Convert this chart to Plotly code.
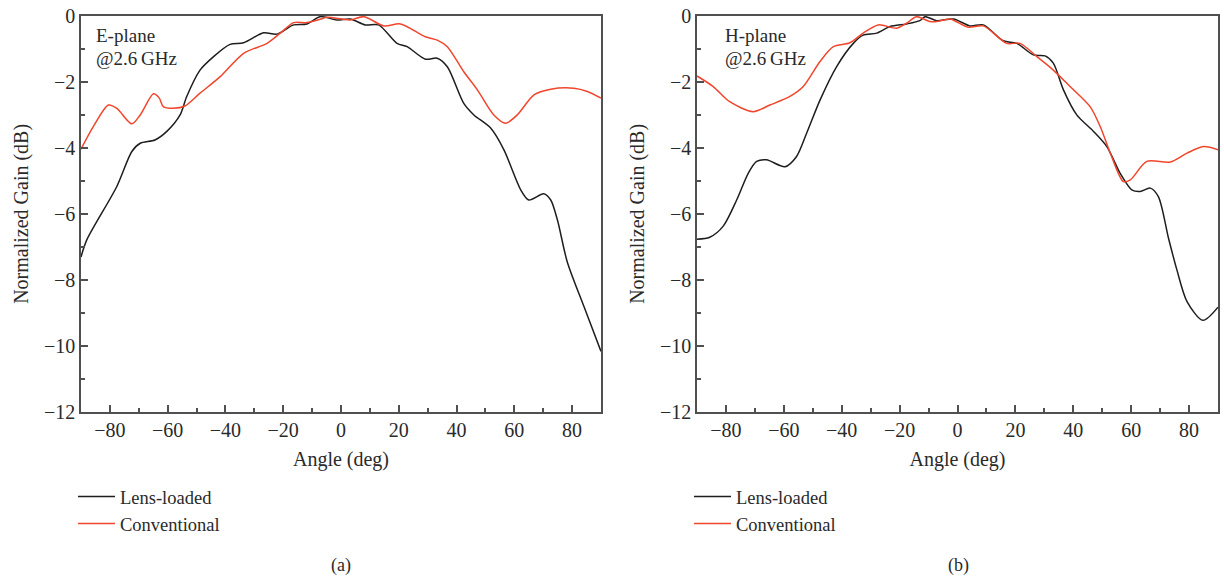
import plotly.graph_objects as go

# E-plane radiation pattern at 2.6 GHz
e_angle_lens = [-90, -88, -77.6, -72.4, -69.5, -64.4, -60.3, -55.7, -53.4, -48.8, -44.1,
                -38.4, -33.7, -26.8, -22.2, -16.4, -11.8, -7.2, -1.4, 3.2, 8.4, 13,
                19.4, 22.9, 29.2, 33.3, 36.8, 42.5, 46, 51.8, 56.4, 62.2, 65, 70.2,
                72.6, 74.9, 78.3, 84.1, 90]
e_gain_lens = [-7.31, -6.79, -5.17, -4.11, -3.86, -3.76, -3.5, -3.0, -2.44, -1.64, -1.23,
               -0.86, -0.81, -0.51, -0.55, -0.27, -0.24, -0.02, -0.12, -0.09, -0.27, -0.27,
               -0.83, -0.93, -1.31, -1.28, -1.54, -2.65, -3.0, -3.4, -4.06, -5.27, -5.58, -5.39,
               -5.58, -6.18, -7.45, -8.81, -10.17]

e_angle_conv = [-90, -85.7, -80.5, -77.6, -72.4, -69.5, -64.9, -62.9, -61.5, -58, -54,
                -48.8, -41.8, -33.7, -25.6, -21, -16.4, -11.8, -7.2, -4.8, 3.2, 7.9,
                14.8, 20.6, 29.2, 33.3, 36.8, 42.5, 47.2, 52.9, 57, 61, 66.8, 72.6,
                80.6, 85.3, 90]
e_gain_conv = [-4.04, -3.35, -2.70, -2.8, -3.27, -3.0, -2.36, -2.49, -2.75, -2.80, -2.73,
               -2.34, -1.84, -1.13, -0.83, -0.52, -0.2, -0.2, -0.1, -0.04, -0.12, -0.02,
               -0.30, -0.24, -0.63, -0.73, -0.93, -1.69, -2.24, -3.0, -3.25, -3.0, -2.39, -2.22,
               -2.19, -2.29, -2.49]

# H-plane radiation pattern at 2.6 GHz
h_angle_lens = [-90, -85.6, -81, -76.3, -72.3, -69.4, -66, -59.6, -55.6, -52.1, -47.5,
                -41.8, -36, -32.6, -27.9, -23.3, -17.6, -13, -11.2, -7.2, -1.4, 4.3,
                8.9, 15.8, 20.5, 26.2, 30.3, 33.1, 36.6, 41.2, 47, 51.6, 56.2, 60.2,
                63.1, 66.6, 69.4, 72.9, 75.8, 79.3, 84.8, 90]
h_gain_lens = [-6.77, -6.71, -6.38, -5.58, -4.77, -4.41, -4.36, -4.57, -4.26, -3.55, -2.55,
               -1.54, -0.83, -0.58, -0.52, -0.32, -0.24, -0.14, -0.02, -0.14, -0.09, -0.30,
               -0.27, -0.75, -0.83, -1.18, -1.21, -1.43, -2.24, -3.0, -3.5, -3.96, -4.77, -5.27,
               -5.32, -5.22, -5.48, -6.74, -7.70, -8.66, -9.23, -8.83]

h_angle_conv = [-90, -84.4, -78.7, -70.6, -64.8, -57.9, -53.3, -47.5, -42.9, -37.2, -32.6,
                -27.4, -21, -17.6, -14.1, -9.5, -7.2, -2.6, 3.7, 8.9, 17, 21.6,
                27.4, 33.1, 38.9, 45.8, 49.3, 52.8, 57.3, 59.7, 65.4, 73.5, 79.3, 85, 90]
h_gain_conv = [-1.82, -2.14, -2.6, -2.9, -2.70, -2.44, -2.14, -1.38, -0.93, -0.81, -0.52,
               -0.27, -0.37, -0.22, -0.02, -0.17, -0.17, -0.09, -0.34, -0.30, -0.83, -0.83,
               -1.23, -1.64, -2.14, -2.75, -3.35, -4.16, -5.02, -4.97, -4.41, -4.43, -4.16, -3.96, -4.06]

series_names = ["Lens-loaded", "Conventional"]
plane_labels = ["E-plane", "H-plane"]
freq_label = "@2.6\u2009GHz"
panel_captions = ["(a)", "(b)"]
x_ticks = [-80, -60, -40, -20, 0, 20, 40, 60, 80]
y_ticks = [0, -2, -4, -6, -8, -10, -12]

BLACK = "#1e1e1e"
RED = "#f0462c"
FRAME = "#505050"
FONT = "Liberation Serif"
TXT = "#2a2a2a"

W, H = 1224, 582
fig = go.Figure()

panels = [
    ("x", "y", "legend", e_angle_lens, e_gain_lens, e_angle_conv, e_gain_conv),
    ("x2", "y2", "legend2", h_angle_lens, h_gain_lens, h_angle_conv, h_gain_conv),
]
for xa, ya, lg, xl, yl, xc, yc in panels:
    fig.add_trace(go.Scatter(x=xl, y=yl, mode="lines", name=series_names[0],
                             line=dict(color=BLACK, width=1.5, shape="spline", smoothing=0.8),
                             xaxis=xa, yaxis=ya, legend=lg, legendgroup=lg + "a"))
    fig.add_trace(go.Scatter(x=xc, y=yc, mode="lines", name=series_names[1],
                             line=dict(color=RED, width=1.5, shape="spline", smoothing=0.8),
                             xaxis=xa, yaxis=ya, legend=lg, legendgroup=lg + "b"))

x_domains = [[81 / W, 601 / W], [697 / W, 1218 / W]]
y_domain = [1 - 411.7 / H, 1 - 16 / H]

common_x = dict(range=[-90, 90], tickvals=x_ticks, ticks="inside", ticklen=7, tickwidth=1.5,
                tickcolor=FRAME, showline=True, linecolor=FRAME, linewidth=1.5, mirror=True,
                showgrid=False, zeroline=False, automargin=False,
                minor=dict(dtick=10, ticks="inside", ticklen=4, tickwidth=1.5, tickcolor=FRAME,
                           showgrid=False),
                tickfont=dict(family=FONT, size=20, color=TXT),
                title=dict(text="Angle (deg)", font=dict(family=FONT, size=20, color=TXT),
                           standoff=12))
common_y = dict(range=[-12, 0], tickvals=y_ticks, ticks="inside", ticklen=7, tickwidth=1.5,
                tickcolor=FRAME, showline=True, linecolor=FRAME, linewidth=1.5, mirror=True,
                showgrid=False, zeroline=False, domain=y_domain, automargin=False,
                minor=dict(dtick=1, ticks="inside", ticklen=4, tickwidth=1.5, tickcolor=FRAME,
                           showgrid=False),
                tickfont=dict(family=FONT, size=20, color=TXT),
                title=dict(text="Normalized Gain (dB)", font=dict(family=FONT, size=20, color=TXT),
                           standoff=10))

fig.update_layout(
    width=W, height=H,
    margin=dict(l=0, r=0, t=0, b=0, autoexpand=False),
    paper_bgcolor="white", plot_bgcolor="white",
    xaxis=dict(domain=x_domains[0], anchor="y", **common_x),
    yaxis=dict(anchor="x", **common_y),
    xaxis2=dict(domain=x_domains[1], anchor="y2", **common_x),
    yaxis2=dict(anchor="x2", **common_y),
    legend=dict(x=73 / W, y=1 - 478 / H, xanchor="left", yanchor="top", itemwidth=37,
                font=dict(family=FONT, size=18.5, color=TXT), tracegroupgap=0,
                bgcolor="rgba(0,0,0,0)"),
    legend2=dict(x=689 / W, y=1 - 478 / H, xanchor="left", yanchor="top", itemwidth=37,
                 font=dict(family=FONT, size=18.5, color=TXT), tracegroupgap=0,
                 bgcolor="rgba(0,0,0,0)"),
    showlegend=True,
)

annotations = []
for i, xl in enumerate([94, 723]):
    annotations.append(dict(x=xl / W, y=1 - 35 / H, xref="paper", yref="paper",
                            text=plane_labels[i], showarrow=False, xanchor="left", yanchor="middle",
                            font=dict(family=FONT, size=19, color=TXT)))
    annotations.append(dict(x=xl / W, y=1 - 59 / H, xref="paper", yref="paper",
                            text=freq_label, showarrow=False, xanchor="left", yanchor="middle",
                            font=dict(family=FONT, size=19, color=TXT)))
for cap, cx in zip(panel_captions, [341, 958]):
    annotations.append(dict(x=cx / W, y=1 - 565 / H, xref="paper", yref="paper",
                            text=cap, showarrow=False, xanchor="center", yanchor="middle",
                            font=dict(family=FONT, size=18, color=TXT)))
fig.update_layout(annotations=annotations)

fig.write_html("out.html")
